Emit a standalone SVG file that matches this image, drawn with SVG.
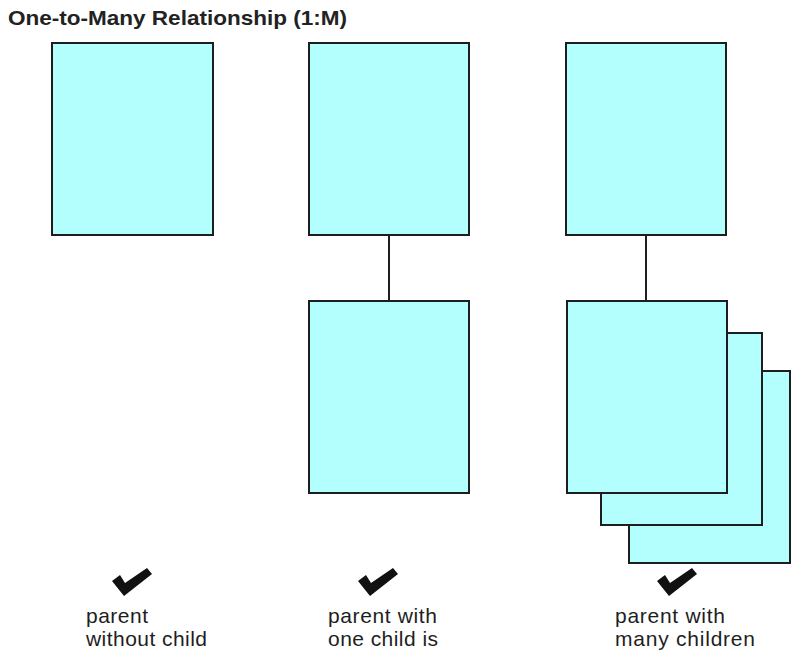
<svg xmlns="http://www.w3.org/2000/svg" width="811" height="669" viewBox="0 0 811 669">
<style>
.box{fill:#B3FFFD;stroke:#1e1e1e;stroke-width:2}
.conn{stroke:#1e1e1e;stroke-width:2;fill:none}
.lbl{font-family:"Liberation Sans",Arial,sans-serif;font-size:21px;fill:#1e1e1e}
.title{font-family:"Liberation Sans",Arial,sans-serif;font-size:21px;font-weight:bold;fill:#222}
.check{fill:#111}
</style>
<defs>
<path id="chk" class="check" d="M0,10 L8,4 L13,12 L35,-3 L40,3 L12,25 Z"/>
</defs>
<rect width="811" height="669" fill="#fff"/>
<text class="title" x="8" y="25" textLength="339" lengthAdjust="spacingAndGlyphs">One-to-Many Relationship (1:M)</text>
<g id="connectors">
<line class="conn" x1="389" y1="235" x2="389" y2="301"/>
<line class="conn" x1="646" y1="235" x2="646" y2="301"/>
</g>
<g id="parent1"><rect class="box" x="52" y="43" width="161" height="192"/></g>
<g id="parent2"><rect class="box" x="309" y="43" width="160" height="192"/></g>
<g id="child2"><rect class="box" x="309" y="301" width="160" height="192"/></g>
<g id="parent3"><rect class="box" x="566" y="43" width="160" height="192"/></g>
<g id="children3">
<rect class="box" x="629" y="371" width="161" height="192"/>
<rect class="box" x="601" y="333" width="161" height="192"/>
<rect class="box" x="567" y="301" width="160" height="192"/>
</g>
<g id="label1">
<use href="#chk" x="112" y="571"/>
<text class="lbl" x="86" y="623" textLength="62">parent</text>
<text class="lbl" x="86" y="646" textLength="121">without child</text>
</g>
<g id="label2">
<use href="#chk" x="358" y="571"/>
<text class="lbl" x="328" y="623" textLength="109">parent with</text>
<text class="lbl" x="328" y="646" textLength="110">one child is</text>
</g>
<g id="label3">
<use href="#chk" x="657" y="571"/>
<text class="lbl" x="615" y="623" textLength="110">parent with</text>
<text class="lbl" x="615" y="646" textLength="140">many children</text>
</g>
</svg>
